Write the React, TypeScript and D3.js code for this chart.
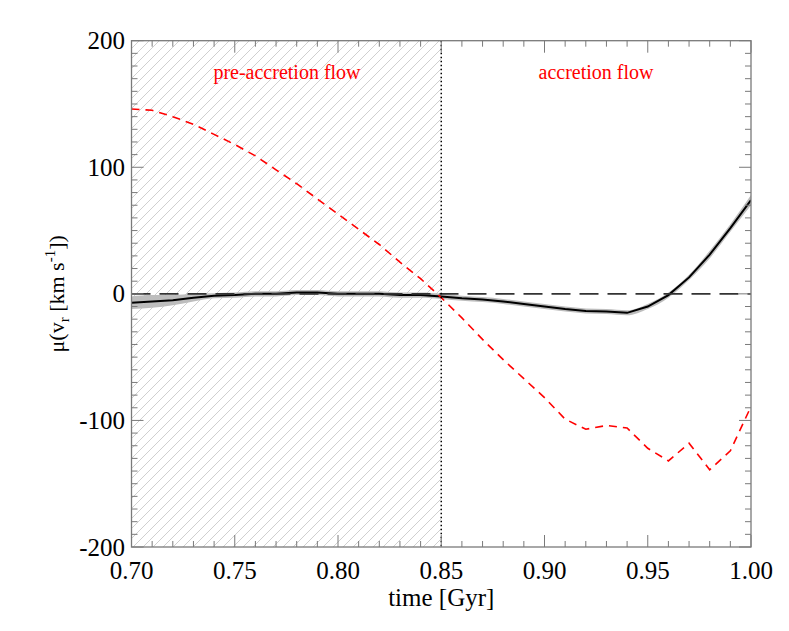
import React from "react";
import * as d3 from "d3";

const times = [0.70,0.71,0.72,0.73,0.74,0.75,0.76,0.77,0.78,0.79,0.80,0.81,0.82,0.83,0.84,0.85,0.86,0.87,0.88,0.89,0.90,0.91,0.92,0.93,0.94,0.95,0.96,0.97,0.98,0.99,1.00];
const preAccretion = [146,145,140,134,126,118,109,98,87,75,63,51,39,25,12,-3,-19,-36,-52,-67,-82,-99,-107,-104,-106,-122,-132,-118,-139,-124,-89];
const meanVr = [-7,-6,-5,-3,-1.5,-1,0,0,1,1,0,0,0,-1,-1,-2,-3.5,-4.5,-6,-8,-10,-12,-13.5,-14,-15,-10,-1,13,31,52,74];
const bandHalf = [5,5,4,3,2,2,2,2,2,2,2,2,2,2,2,2,2,2,2,2,2,2,2,2,2,2,2,2,3,3,4];
const xTicks = [0.70,0.75,0.80,0.85,0.90,0.95,1.00];
const yTicks = [200,100,0,-100,-200];

const W = 789, H = 631;
const L = 131.5, R = 751, T = 40.7, B = 547;

export default function App() {
  const x = d3.scaleLinear().domain([0.70, 1.00]).range([L, R]);
  const y = d3.scaleLinear().domain([-200, 200]).range([B, T]);

  const line = d3.line<number>().x((_, i) => x(times[i])).y((v) => y(v));
  const area = d3.area<number>()
    .x((_, i) => x(times[i]))
    .y0((v, i) => y(v - bandHalf[i]))
    .y1((v, i) => y(v + bandHalf[i]))
    .curve(d3.curveMonotoneX);

  const minorX = d3.range(0, 31).map((i) => 0.70 + i * 0.01);
  const minorY = d3.range(-200, 201, 10);
  const axisCol = "#7a7a7a";
  const font = "'Liberation Serif', 'Times New Roman', serif";

  return (
    <svg width={W} height={H} style={{ position: "absolute", left: 0, top: 0, background: "#fff" }}>
      <defs>
        <pattern id="hatch" patternUnits="userSpaceOnUse" width={10} height={10}>
          <path d="M0,10 L10,0 M-2,2 L2,-2 M8,12 L12,8" stroke="#cfcfcf" strokeWidth={1} />
        </pattern>
        <clipPath id="plot">
          <rect x={L} y={T} width={R - L} height={B - T} />
        </clipPath>
      </defs>
      <rect x={0} y={0} width={W} height={H} fill="#fff" />
      <rect x={x(0.70)} y={T} width={x(0.85) - x(0.70)} height={B - T} fill="url(#hatch)" />
      <g clipPath="url(#plot)">
        <path d={area(meanVr) || ""} fill="#bdbdbd" />
        <path d={line(meanVr) || ""} fill="none" stroke="#000" strokeWidth={2} />
        <line x1={L} x2={R} y1={y(0)} y2={y(0)} stroke="#333" strokeWidth={1.6} strokeDasharray="19 9" />
        <path d={line(preAccretion) || ""} fill="none" stroke="#ff0000" strokeWidth={1.6} strokeDasharray="8 6" />
        <line x1={x(0.85)} x2={x(0.85)} y1={T} y2={B} stroke="#000" strokeWidth={1.5} strokeDasharray="1.5 2.5" />
      </g>
      <rect x={L} y={T} width={R - L} height={B - T} fill="none" stroke={axisCol} strokeWidth={1.3} />
      {minorX.map((t, i) => {
        const major = i % 5 === 0;
        const len = major ? 12 : 6;
        return (
          <g key={"xt" + i}>
            <line x1={x(t)} x2={x(t)} y1={B} y2={B - len} stroke={axisCol} strokeWidth={1} />
            <line x1={x(t)} x2={x(t)} y1={T} y2={T + len} stroke={axisCol} strokeWidth={1} />
          </g>
        );
      })}
      {minorY.map((v, i) => {
        const major = v % 100 === 0;
        const len = major ? 12 : 6;
        return (
          <g key={"yt" + i}>
            <line x1={L} x2={L + len} y1={y(v)} y2={y(v)} stroke={axisCol} strokeWidth={1} />
            <line x1={R} x2={R - len} y1={y(v)} y2={y(v)} stroke={axisCol} strokeWidth={1} />
          </g>
        );
      })}
      {xTicks.map((t) => (
        <text key={"xl" + t} x={x(t)} y={579} textAnchor="middle" fontFamily={font} fontSize={25} fill="#000">
          {t.toFixed(2)}
        </text>
      ))}
      {yTicks.map((v) => (
        <text key={"yl" + v} x={125} y={y(v) + 8.5} textAnchor="end" fontFamily={font} fontSize={25} fill="#000">
          {v < 0 ? "-" + Math.abs(v) : String(v)}
        </text>
      ))}
      <text x={x(0.85)} y={606} textAnchor="middle" fontFamily={font} fontSize={25} fill="#000">time [Gyr]</text>
      <text transform={`translate(64,${y(0)}) rotate(-90)`} textAnchor="middle" fontFamily={font} fontSize={22} fill="#000">
        μ(v<tspan fontSize={15} dy={5}>r</tspan><tspan dy={-5}> [km s</tspan><tspan fontSize={15} dy={-9}>-1</tspan><tspan dy={9}>])</tspan>
      </text>
      <text x={287} y={79} textAnchor="middle" fontFamily={font} fontSize={20} fill="#ff0000">pre-accretion flow</text>
      <text x={596} y={79} textAnchor="middle" fontFamily={font} fontSize={20} fill="#ff0000">accretion flow</text>
    </svg>
  );
}
